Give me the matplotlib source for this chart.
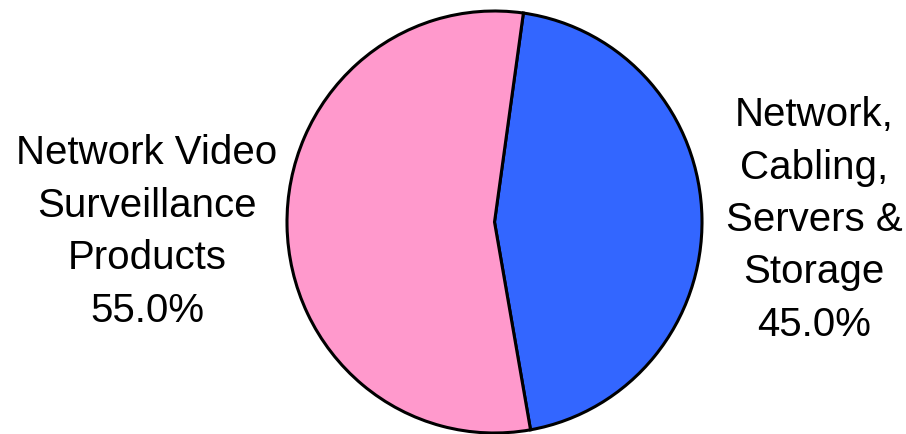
import matplotlib.pyplot as plt

# Share of spend.
categories = ["Network,\nCabling,\nServers &\nStorage",
              "Network Video\nSurveillance\nProducts"]
shares = [45.0, 55.0]
colors = ["#3366FF", "#FF99CC"]

plt.rcParams['font.family'] = ['Liberation Sans', 'DejaVu Sans']

fig = plt.figure(figsize=(9.06, 4.34), dpi=100)
# pie sits in its own axes, slightly taller than wide like the original
ax = fig.add_axes([287 / 906, 1 / 434, 415 / 906, 422 / 434])
wedges, _ = ax.pie(shares, colors=colors, startangle=82, counterclock=False,
                   wedgeprops=dict(edgecolor="black", linewidth=2.2))
for w in wedges:
    w.set_clip_on(False)
ax.set_xlim(-1, 1)
ax.set_ylim(-1, 1)
ax.set_aspect('auto')
ax.axis('off')

# labels beside the pie
label_pos = [(814 / 906, 1 - 220 / 434), (147 / 906, 1 - 232 / 434)]
for name, val, (x, y) in zip(categories, shares, label_pos):
    fig.text(x, y, f"{name}\n{val:.1f}%", ha='center', va='center',
             fontsize=29, linespacing=1.48)

fig.savefig("out.png", dpi=100)
